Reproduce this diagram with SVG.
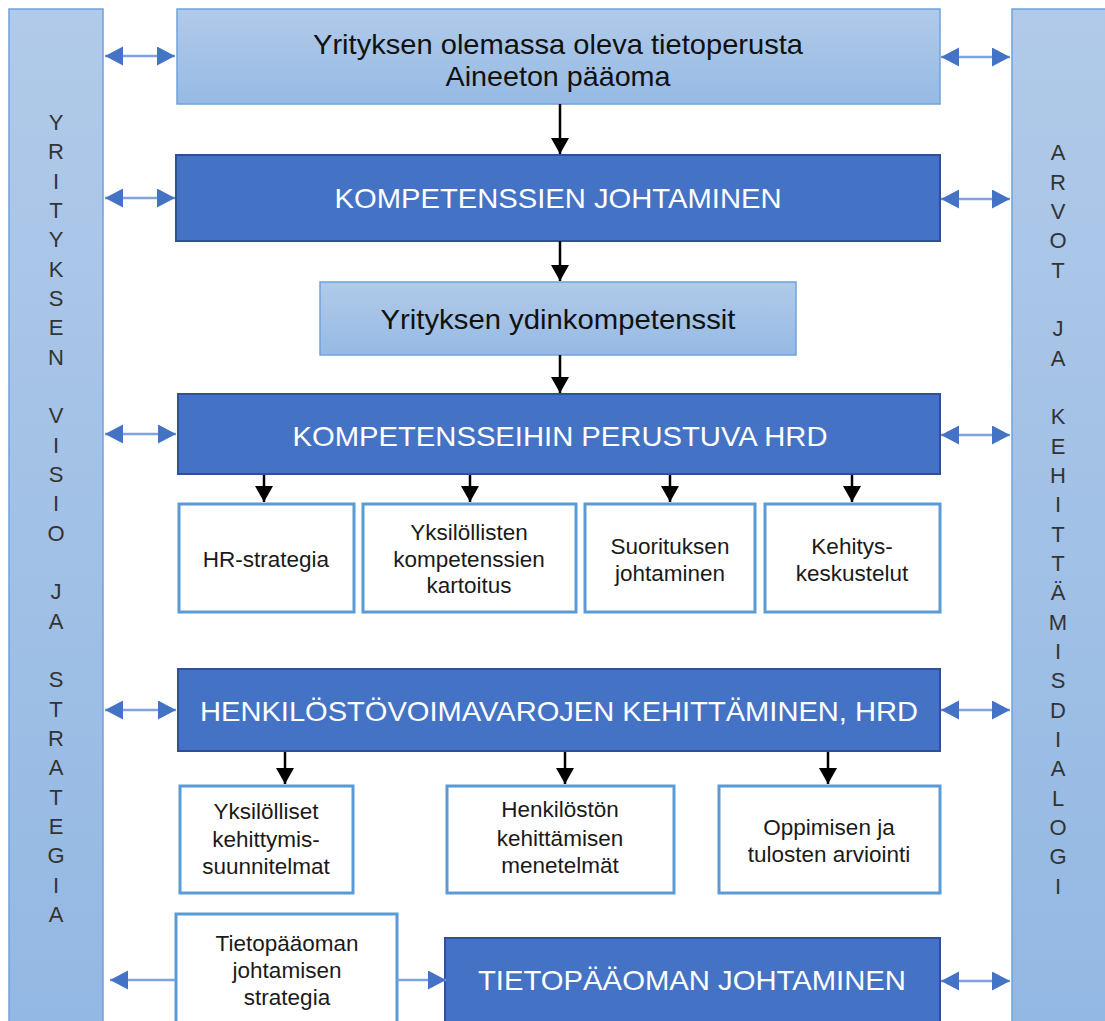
<svg xmlns="http://www.w3.org/2000/svg" width="1105" height="1021" viewBox="0 0 1105 1021">
<defs>
<linearGradient id="gSide" x1="0" y1="0" x2="0" y2="1">
<stop offset="0" stop-color="#b1cae9"/><stop offset="1" stop-color="#93b8e3"/>
</linearGradient>
<linearGradient id="gBox" x1="0" y1="0" x2="0" y2="1">
<stop offset="0" stop-color="#b1cae9"/><stop offset="1" stop-color="#96bae4"/>
</linearGradient>
<marker id="bh" markerUnits="userSpaceOnUse" markerWidth="20" markerHeight="20" refX="18" refY="9.5" orient="auto-start-reverse" viewBox="0 0 20 20">
<path d="M0,0 L18,9.5 L0,19 Z" fill="#4472c4"/>
</marker>
<marker id="kh" markerUnits="userSpaceOnUse" markerWidth="20" markerHeight="20" refX="16" refY="9" orient="auto" viewBox="0 0 20 20">
<path d="M0,0 L16,9 L0,18 Z" fill="#000"/>
</marker>
</defs>
<style>
.side{fill:url(#gSide);stroke:#6fa3db;stroke-width:1.5}
.lite{fill:url(#gBox);stroke:#6fa3db;stroke-width:1.5}
.dark{fill:#4472c4;stroke:#2f528f;stroke-width:2}
.out{fill:#fff;stroke:#5b9bd5;stroke-width:3}
.t{font-family:"Liberation Sans",Arial,sans-serif;text-anchor:middle}
.big{font-size:28px;fill:#111}
.wb{font-size:28px;fill:#fff}
.sm{font-size:22.5px;fill:#1a1a1a}
.v{font-family:"Liberation Sans",Arial,sans-serif;text-anchor:middle;font-size:22px;fill:#333}
.ba{stroke:#7ea3de;stroke-width:2.5;fill:none;marker-start:url(#bh);marker-end:url(#bh)}
.sa{stroke:#7ea3de;stroke-width:2.5;fill:none;marker-end:url(#bh)}
.ka{stroke:#000;stroke-width:2.5;fill:none;marker-end:url(#kh)}
</style>
<g id="left-bar">
<rect class="side" x="9" y="9" width="94" height="1020"/>
<g class="v">
<text x="56" y="130">Y</text><text x="56" y="159">R</text><text x="56" y="189">I</text><text x="56" y="218">T</text><text x="56" y="247">Y</text><text x="56" y="277">K</text><text x="56" y="306">S</text><text x="56" y="335">E</text><text x="56" y="365">N</text>
<text x="56" y="423">V</text><text x="56" y="453">I</text><text x="56" y="482">S</text><text x="56" y="511">I</text><text x="56" y="541">O</text>
<text x="56" y="599">J</text><text x="56" y="629">A</text>
<text x="56" y="687">S</text><text x="56" y="717">T</text><text x="56" y="746">R</text><text x="56" y="775">A</text><text x="56" y="805">T</text><text x="56" y="834">E</text><text x="56" y="863">G</text><text x="56" y="893">I</text><text x="56" y="922">A</text>
</g>
</g>
<g id="right-bar">
<rect class="side" x="1012" y="9" width="100" height="1020"/>
<g class="v">
<text x="1058" y="160">A</text><text x="1058" y="190">R</text><text x="1058" y="219">V</text><text x="1058" y="248">O</text><text x="1058" y="278">T</text>
<text x="1058" y="336">J</text><text x="1058" y="366">A</text>
<text x="1058" y="424">K</text><text x="1058" y="454">E</text><text x="1058" y="483">H</text><text x="1058" y="512">I</text><text x="1058" y="542">T</text><text x="1058" y="571">T</text><text x="1058" y="600">Ä</text><text x="1058" y="630">M</text><text x="1058" y="659">I</text><text x="1058" y="688">S</text><text x="1058" y="718">D</text><text x="1058" y="747">I</text><text x="1058" y="776">A</text><text x="1058" y="806">L</text><text x="1058" y="835">O</text><text x="1058" y="864">G</text><text x="1058" y="894">I</text>
</g>
</g>
<g id="tietoperusta">
<rect class="lite" x="177" y="9" width="763" height="95"/>
<text class="t big" x="558" y="54" textLength="490" lengthAdjust="spacingAndGlyphs">Yrityksen olemassa oleva tietoperusta</text>
<text class="t big" x="558" y="86" textLength="225" lengthAdjust="spacingAndGlyphs">Aineeton pääoma</text>
</g>
<g id="kompetenssien-johtaminen">
<rect class="dark" x="176" y="155" width="764" height="86"/>
<text class="t wb" x="558" y="208" textLength="447" lengthAdjust="spacingAndGlyphs">KOMPETENSSIEN JOHTAMINEN</text>
</g>
<g id="ydinkompetenssit">
<rect class="lite" x="320" y="282" width="476" height="73"/>
<text class="t big" x="558" y="329" textLength="355" lengthAdjust="spacingAndGlyphs">Yrityksen ydinkompetenssit</text>
</g>
<g id="kompetensseihin-hrd">
<rect class="dark" x="178" y="394" width="762" height="80"/>
<text class="t wb" x="560" y="446" textLength="535" lengthAdjust="spacingAndGlyphs">KOMPETENSSEIHIN PERUSTUVA HRD</text>
</g>
<g id="hr-strategia">
<rect class="out" x="179" y="504" width="175" height="108"/>
<text class="t sm" x="266" y="567">HR-strategia</text>
</g>
<g id="kartoitus">
<rect class="out" x="363" y="504" width="213" height="108"/>
<text class="t sm" x="469" y="540">Yksilöllisten</text>
<text class="t sm" x="469" y="567">kompetenssien</text>
<text class="t sm" x="469" y="593">kartoitus</text>
</g>
<g id="suorituksen-johtaminen">
<rect class="out" x="585" y="504" width="170" height="108"/>
<text class="t sm" x="670" y="554">Suorituksen</text>
<text class="t sm" x="670" y="581">johtaminen</text>
</g>
<g id="kehityskeskustelut">
<rect class="out" x="765" y="504" width="175" height="108"/>
<text class="t sm" x="852" y="554">Kehitys-</text>
<text class="t sm" x="852" y="581">keskustelut</text>
</g>
<g id="henkilostovoimavarojen-kehittaminen">
<rect class="dark" x="178" y="669" width="762" height="82"/>
<text class="t wb" x="559" y="721" textLength="718" lengthAdjust="spacingAndGlyphs">HENKILÖSTÖVOIMAVAROJEN KEHITTÄMINEN, HRD</text>
</g>
<g id="kehittymissuunnitelmat">
<rect class="out" x="180" y="786" width="173" height="107"/>
<text class="t sm" x="266" y="819">Yksilölliset</text>
<text class="t sm" x="266" y="847">kehittymis-</text>
<text class="t sm" x="266" y="874">suunnitelmat</text>
</g>
<g id="kehittamisen-menetelmat">
<rect class="out" x="447" y="786" width="227" height="107"/>
<text class="t sm" x="560" y="817">Henkilöstön</text>
<text class="t sm" x="560" y="846">kehittämisen</text>
<text class="t sm" x="560" y="873">menetelmät</text>
</g>
<g id="arviointi">
<rect class="out" x="719" y="786" width="221" height="107"/>
<text class="t sm" x="829" y="835">Oppimisen ja</text>
<text class="t sm" x="829" y="862">tulosten arviointi</text>
</g>
<g id="tietopaaoman-strategia">
<rect class="out" x="176" y="914" width="221" height="115"/>
<text class="t sm" x="287" y="951">Tietopääoman</text>
<text class="t sm" x="287" y="978">johtamisen</text>
<text class="t sm" x="287" y="1005">strategia</text>
</g>
<g id="tietopaaoman-johtaminen">
<rect class="dark" x="445" y="938" width="495" height="95"/>
<text class="t wb" x="692" y="990" textLength="428" lengthAdjust="spacingAndGlyphs">TIETOPÄÄOMAN JOHTAMINEN</text>
</g>
<g id="connectors">
<line class="ka" x1="560" y1="104" x2="560" y2="154"/>
<line class="ka" x1="560" y1="241" x2="560" y2="281"/>
<line class="ka" x1="560" y1="355" x2="560" y2="393"/>
<line class="ka" x1="264" y1="475" x2="264" y2="502"/>
<line class="ka" x1="470" y1="475" x2="470" y2="502"/>
<line class="ka" x1="670" y1="475" x2="670" y2="502"/>
<line class="ka" x1="852" y1="475" x2="852" y2="502"/>
<line class="ka" x1="285" y1="752" x2="285" y2="784"/>
<line class="ka" x1="565" y1="752" x2="565" y2="784"/>
<line class="ka" x1="828" y1="752" x2="828" y2="784"/>
<line class="ba" x1="105" y1="56" x2="175" y2="56"/>
<line class="ba" x1="105" y1="198" x2="175" y2="198"/>
<line class="ba" x1="105" y1="434" x2="176" y2="434"/>
<line class="ba" x1="105" y1="710" x2="176" y2="710"/>
<line class="ba" x1="941" y1="57" x2="1010" y2="57"/>
<line class="ba" x1="941" y1="199" x2="1010" y2="199"/>
<line class="ba" x1="941" y1="435" x2="1010" y2="435"/>
<line class="ba" x1="941" y1="710" x2="1010" y2="710"/>
<line class="ba" x1="941" y1="981" x2="1010" y2="981"/>
<line class="sa" x1="175" y1="980" x2="110" y2="980"/>
<line class="sa" x1="397" y1="980" x2="446" y2="980"/>
</g>
</svg>
